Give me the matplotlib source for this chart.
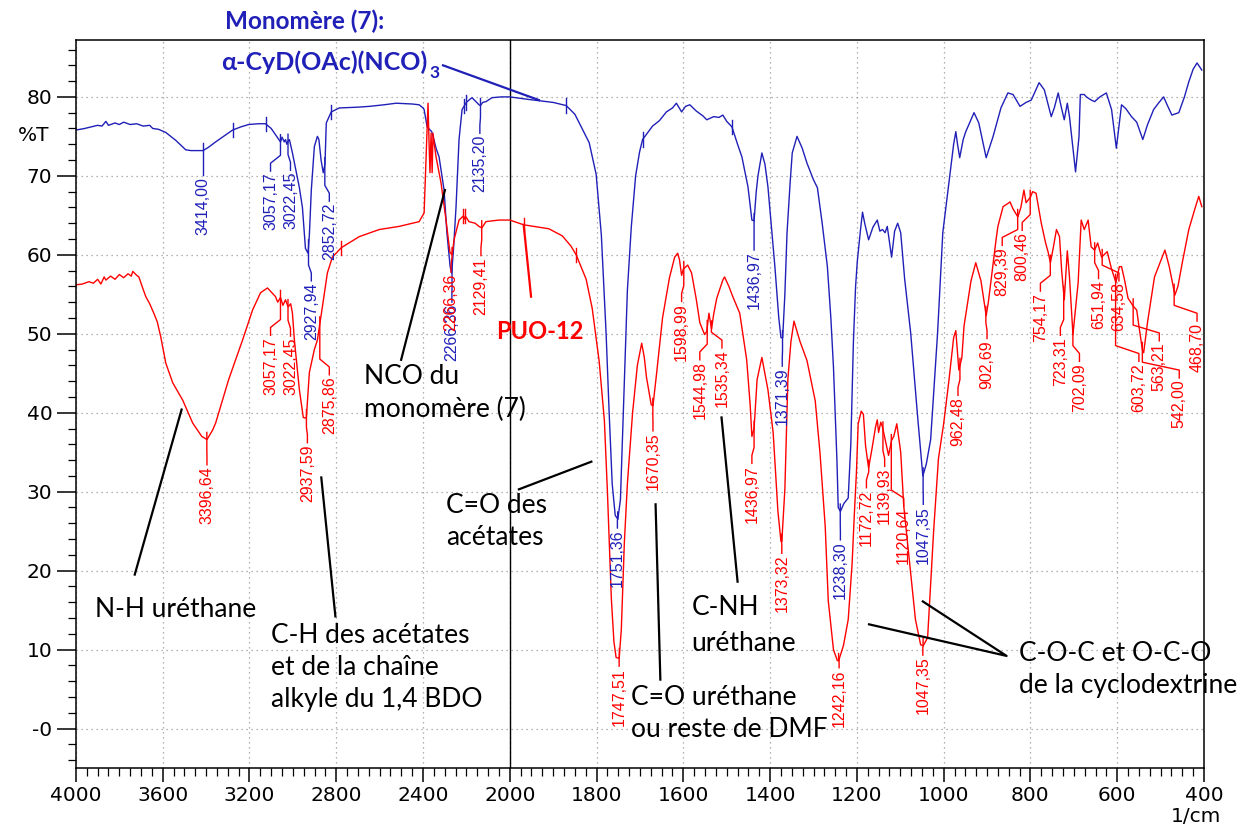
import numpy as np
import matplotlib
matplotlib.use('Agg')
import matplotlib.pyplot as plt
from matplotlib.ticker import FixedLocator

# IR spectra, wavenumber (1/cm) and transmission (%T)
blue_wn = [4000, 3960, 3930, 3900, 3880, 3862, 3850, 3820, 3800, 3780, 3750, 3720, 3690, 3660,
           3646, 3620, 3586, 3540, 3494, 3470, 3440, 3414, 3390, 3356, 3320, 3278, 3240, 3204,
           3160, 3126, 3100, 3080, 3065, 3057, 3050, 3040, 3034, 3028, 3022, 3016, 3002, 2984,
           2970, 2956, 2942, 2930, 2924, 2915, 2901, 2887, 2880, 2870, 2860, 2852, 2846, 2823,
           2786, 2700, 2648, 2580, 2524, 2450, 2418, 2400, 2395, 2381, 2360, 2350, 2340, 2326,
           2303, 2290, 2275, 2268, 2260, 2248, 2234, 2220, 2200, 2188, 2174, 2160, 2142, 2135,
           2125, 2110, 2082, 2040, 2000, 1960, 1930, 1900, 1870, 1850, 1840, 1817, 1801, 1789,
           1778, 1771, 1764, 1757, 1751, 1745, 1736, 1729, 1720, 1710, 1701, 1694, 1671, 1655,
           1639, 1625, 1616, 1604, 1595, 1585, 1570, 1555, 1546, 1530, 1518, 1509, 1500, 1488,
           1475, 1465, 1451, 1442, 1437, 1432, 1428, 1419, 1412, 1405, 1396, 1389, 1380, 1375,
           1371, 1366, 1361, 1354, 1349, 1338, 1326, 1315, 1300, 1291, 1280, 1268, 1260, 1254,
           1246, 1243, 1238, 1230, 1220, 1214, 1208, 1203, 1199, 1192, 1187, 1182, 1173, 1163,
           1153, 1147, 1141, 1135, 1130, 1120, 1113, 1106, 1099, 1090, 1076, 1060, 1048, 1040,
           1030, 1014, 1002, 988, 977, 972, 968, 963, 955, 949, 930, 919, 902, 886, 868, 852,
           840, 824, 810, 798, 780, 768, 752, 745, 736, 728, 722, 715, 710, 696, 688, 685, 676,
           671, 660, 652, 640, 625, 613, 602, 590, 580, 567, 555, 541, 530, 516, 505, 493, 485,
           474, 458, 445, 435, 425, 416, 405]
blue_t = [75.8, 76.0, 76.2, 76.4, 76.3, 76.9, 76.4, 76.7, 76.5, 76.8, 76.5, 76.6, 76.3, 76.4,
          76.0, 75.9, 75.5, 74.5, 73.3, 73.2, 73.2, 73.2, 73.6, 74.3, 75.0, 75.8, 76.2, 76.5,
          76.6, 76.6, 76.0, 75.2, 74.6, 74.3, 74.9, 74.3, 74.6, 74.0, 74.4, 74.6, 72.9, 70.4,
          68.5, 66.0, 60.8, 60.2, 62.5, 68.2, 73.7, 75.0, 74.6, 72.0, 70.4, 71.5, 76.7, 78.1,
          78.6, 78.7, 78.8, 79.0, 79.2, 79.1, 79.0, 78.6, 78.4, 76.2, 75.6, 74.6, 73.5, 72.4,
          68.2, 62.8, 58.5, 57.7, 60.5, 66.0, 74.6, 78.4, 79.3, 79.6, 79.9, 79.5, 79.0, 78.9,
          79.3, 79.4, 79.9, 80.0, 80.0, 79.7, 79.5, 79.3, 78.9, 77.8, 76.7, 74.2, 70.2, 62.5,
          50.0, 40.0, 31.0, 27.0, 26.5, 29.0, 44.0, 55.5, 63.5, 70.0, 73.0, 74.6, 76.3, 77.0,
          78.1, 78.6, 79.2, 78.1, 78.8, 79.0, 78.2, 77.6, 77.1, 77.5, 77.4, 77.7, 76.9, 76.2,
          74.0, 72.4, 68.6, 64.4, 64.3, 68.0, 70.0, 72.9, 71.5, 68.6, 63.0, 58.5, 52.0, 49.5,
          49.5, 55.0, 62.8, 69.0, 72.9, 75.0, 73.5, 71.6, 69.5, 68.5, 64.0, 58.5, 52.0, 45.8,
          34.0, 28.0, 27.5, 28.5, 29.2, 36.0, 49.0, 56.0, 59.2, 63.0, 65.4, 64.0, 61.9, 63.5,
          64.4, 63.0, 63.2, 62.8, 63.6, 59.7, 63.0, 64.0, 62.8, 57.0, 50.1, 39.5, 32.0, 33.5,
          36.6, 50.1, 62.8, 69.1, 74.0, 75.6, 74.0, 72.3, 74.6, 75.6, 78.0, 76.7, 72.3, 75.0,
          78.6, 80.5, 80.3, 78.8, 79.3, 79.6, 81.8, 80.9, 77.5, 78.6, 80.5, 78.5, 77.1, 79.2,
          77.5, 70.5, 75.0, 80.3, 80.3, 80.0, 79.6, 79.4, 80.0, 80.5, 78.4, 73.5, 79.0, 78.5,
          77.5, 76.8, 74.6, 76.5, 78.4, 79.2, 80.0, 79.0, 77.7, 78.0, 80.0, 81.9, 83.5, 84.3,
          83.4]

red_wn = [4000, 3970, 3940, 3920, 3900, 3885, 3870, 3862, 3840, 3820, 3800, 3780, 3760, 3745,
          3738, 3720, 3710, 3695, 3678, 3660, 3641, 3625, 3609, 3586, 3554, 3508, 3462, 3420,
          3396, 3370, 3356, 3296, 3232, 3186, 3149, 3117, 3100, 3080, 3070, 3057, 3046, 3034,
          3022, 3010, 3002, 2993, 2970, 2952, 2938, 2924, 2901, 2887, 2864, 2841, 2818, 2777,
          2694, 2602, 2510, 2418, 2395, 2386, 2377, 2372, 2368, 2363, 2358, 2354, 2348, 2340,
          2317, 2294, 2276, 2266, 2257, 2234, 2215, 2211, 2205, 2188, 2160, 2142, 2129, 2110,
          2050, 2000, 1968, 1910, 1879, 1859, 1847, 1824, 1810, 1794, 1782, 1775, 1766, 1760,
          1755, 1748, 1743, 1736, 1729, 1717, 1706, 1696, 1690, 1685, 1674, 1670, 1662, 1648,
          1632, 1620, 1613, 1609, 1604, 1600, 1590, 1581, 1570, 1562, 1551, 1546, 1541, 1535,
          1530, 1523, 1509, 1505, 1495, 1486, 1470, 1454, 1446, 1442, 1437, 1430, 1419, 1405,
          1393, 1382, 1375, 1373, 1366, 1359, 1352, 1345, 1331, 1315, 1296, 1285, 1273, 1266,
          1254, 1245, 1242, 1231, 1220, 1211, 1206, 1201, 1197, 1190, 1185, 1180, 1173, 1165,
          1157, 1153, 1150, 1145, 1141, 1134, 1127, 1120, 1115, 1108, 1099, 1092, 1076, 1065,
          1053, 1047, 1037, 1030, 1023, 1012, 1000, 988, 977, 972, 965, 958, 953, 937, 926, 914,
          902, 897, 879, 875, 863, 852, 847, 840, 829, 822, 815, 810, 800, 795, 787, 775, 765,
          759, 754, 747, 740, 733, 728, 722, 715, 710, 702, 690, 683, 676, 667, 660, 652, 645,
          636, 623, 613, 603, 595, 590, 583, 575, 563, 555, 550, 542, 539, 530, 514, 490, 480,
          467, 460, 450, 435, 420, 412, 405]
red_t = [56.2, 56.3, 56.6, 56.4, 56.9, 56.3, 57.2, 56.8, 57.3, 56.9, 57.5, 57.1, 57.6, 57.3,
         57.9, 57.4, 57.2, 56.0, 54.7, 53.8, 52.6, 51.5, 49.6, 46.3, 43.8, 41.6, 38.7, 37.0,
         36.6, 37.8, 38.7, 44.2, 49.2, 53.0, 55.2, 55.8, 55.3, 54.7, 54.0, 54.6, 53.6, 54.3,
         53.4, 53.8, 52.6, 49.2, 42.9, 39.4, 39.3, 45.1, 48.0, 49.2, 53.4, 57.7, 59.7, 60.9,
         62.3, 63.2, 63.6, 64.2, 65.3, 72.4, 79.2, 74.0, 70.4, 75.4, 70.4, 75.4, 74.0, 72.4,
         69.1, 64.4, 60.3, 60.0, 61.9, 64.4, 64.9, 64.5, 64.9, 64.2, 64.0, 63.6, 63.4, 64.2,
         64.4, 64.4, 63.8, 63.3, 62.4, 61.1, 60.0, 56.9, 53.2, 46.5, 39.0, 30.0, 16.5, 11.0,
         9.0, 8.9, 12.5, 23.5, 31.0, 40.0, 46.0, 48.8, 47.0, 44.5, 41.0, 40.9, 44.8, 52.0,
         57.1, 59.7, 60.2, 59.4, 57.4, 58.2, 58.7, 57.7, 54.3, 51.4, 49.9, 50.3, 52.6, 50.6,
         52.5, 54.5, 56.8, 57.2, 56.0, 54.7, 52.6, 46.7, 41.0, 37.0, 38.0, 44.2, 47.0, 42.9,
         37.5, 27.5, 23.7, 23.7, 30.3, 44.3, 49.0, 51.6, 49.0, 46.6, 41.5, 34.9, 25.6, 16.2,
         10.0, 8.6, 8.6, 10.5, 13.8, 20.9, 27.0, 32.5, 38.6, 40.2, 39.8, 35.8, 33.0, 35.5,
         38.2, 39.1, 37.5, 38.8, 38.2, 36.4, 34.6, 36.5, 37.0, 38.6, 35.0, 28.2, 19.6, 13.8,
         10.6, 10.5, 11.5, 18.4, 25.1, 34.2, 38.6, 44.0, 49.5, 50.4, 45.4, 47.0, 51.0, 56.7,
         59.0, 56.7, 52.3, 54.0, 62.0, 63.6, 66.1, 66.5, 66.7, 65.8, 64.8, 66.0, 68.2, 66.6,
         67.3, 68.0, 67.8, 64.0, 61.5, 60.3, 59.0, 61.0, 63.2, 62.3, 58.0, 54.3, 60.5, 57.2,
         49.9, 56.5, 64.4, 63.2, 64.4, 61.0, 60.6, 61.5, 59.7, 60.4, 58.2, 56.5, 58.5, 58.5,
         56.8, 54.5, 53.5, 53.0, 51.0, 48.0, 47.6, 51.5, 57.2, 60.6, 58.5, 54.9, 56.0, 59.0,
         63.2, 66.0, 67.4, 66.1]

# picked peaks
blue_peaks = [3414.00, 3057.17, 3022.45, 2927.94, 2852.72, 2266.36, 2135.20, 1751.36,
              1436.97, 1371.39, 1238.30, 1047.35]
blue_peak_text = ['3414,00', '3057,17', '3022,45', '2927,94', '2852,72', '2266,36', '2135,20',
                  '1751,36', '1436,97', '1371,39', '1238,30', '1047,35']
red_peaks = [3396.64, 3057.17, 3022.45, 2937.59, 2875.86, 2266.36, 2129.41, 1747.51, 1670.35,
             1598.99, 1544.98, 1535.34, 1436.97, 1373.32, 1242.16, 1172.72, 1139.93, 1120.64,
             1047.35, 962.48, 902.69, 829.39, 800.46, 754.17, 723.31, 702.09, 651.94, 634.58,
             603.72, 563.21, 542.00, 468.70]
red_peak_text = ['3396,64', '3057,17', '3022,45', '2937,59', '2875,86', '2266,36', '2129,41',
                 '1747,51', '1670,35', '1598,99', '1544,98', '1535,34', '1436,97', '1373,32',
                 '1242,16', '1172,72', '1139,93', '1120,64', '1047,35', '962,48', '902,69',
                 '829,39', '800,46', '754,17', '723,31', '702,09', '651,94', '634,58', '603,72',
                 '563,21', '542,00', '468,70']

# where the peak labels sit (x in 1/cm, top of label in %T)
blue_lab_x = [3414, 3103, 3011, 2915, 2832, 2267, 2138, 1752, 1437, 1372, 1238, 1047]
blue_lab_top = [69.9, 70.4, 70.5, 56.5, 66.6, 53.8, 75.2, 25.2, 60.4, 45.7, 23.7, 28.2]
red_lab_x = [3396, 3103, 3011, 2933, 2832, 2271, 2133, 1748, 1670, 1604, 1562, 1511, 1442,
             1373, 1241, 1178, 1136, 1092, 1048, 967, 900, 865, 819, 777, 731, 687, 643, 596,
             550, 503, 457, 416]
red_lab_top = [33.2, 49.6, 49.5, 36.0, 44.6, 57.6, 59.7, 7.7, 37.5, 53.9, 46.5, 48.0, 33.4,
               22.0, 7.5, 30.3, 33.0, 28.0, 9.1, 42.0, 49.2, 61.0, 62.9, 55.2, 49.6, 46.3,
               56.8, 56.5, 46.3, 48.9, 44.2, 51.4]

# extra picked points without visible numbers
blue_marks = [3278, 3126, 2823, 2211, 2200, 1870, 1694, 1488]
red_marks = [2777, 2215, 2205, 1968, 1847]

BLUE = '#2020b8'
RED = '#ff0000'


def fwd(x):
    x = np.asarray(x, dtype=float)
    return np.where(x > 2000, 2000 + (x - 2000) / 2.0, x)


def inv(u):
    u = np.asarray(u, dtype=float)
    return np.where(u > 2000, 2000 + (u - 2000) * 2.0, u)


def curve_at(wn, xs, ys):
    return float(np.interp(wn, xs[::-1], ys[::-1]))


fig = plt.figure(figsize=(12.43, 8.36), dpi=100)
ax = fig.add_axes([0.0611, 0.0813, 0.9075, 0.8708])
ax.set_xscale('function', functions=(fwd, inv))
ax.set_xlim(4000, 400)
ax.set_ylim(-5, 87.2)

major_x = [4000, 3600, 3200, 2800, 2400, 2000, 1800, 1600, 1400, 1200, 1000, 800, 600, 400]
minor_x = [w for w in list(range(2050, 4000, 50)) + list(range(425, 2000, 25)) if w not in major_x]
ax.xaxis.set_major_locator(FixedLocator(major_x))
ax.xaxis.set_minor_locator(FixedLocator(minor_x))
ax.set_xticklabels([str(w) for w in major_x])
ax.yaxis.set_major_locator(FixedLocator(range(0, 81, 10)))
ax.yaxis.set_minor_locator(FixedLocator(range(-4, 87, 2)))
ax.set_yticklabels(['-0' if v == 0 else str(v) for v in range(0, 81, 10)])
ax.tick_params(which='major', direction='out', length=10, width=1.1, labelsize=14.5, pad=3)
ax.tick_params(axis='y', which='major', length=14)
ax.tick_params(which='minor', direction='out', length=5.5, width=0.9)
for s in ax.spines.values():
    s.set_linewidth(1.1)

ax.grid(which='major', color='#9a9a9a', linestyle=(0, (1, 3)), linewidth=0.9)
ax.axvline(2000, color='black', linewidth=1.0)

ax.plot(blue_wn, blue_t, color=BLUE, linewidth=1.0)
ax.plot(red_wn, red_t, color=RED, linewidth=1.0)

lab_font = dict(family='Liberation Sans', fontsize=11.5)


def peak_labels(peaks, texts, lab_x, lab_top, xs, ys, color):
    for p, txt, lx, lt in zip(peaks, texts, lab_x, lab_top):
        tp = curve_at(p, xs, ys)
        mid = min(tp - 0.3, lt + 2.2)
        if mid < lt + 1.3:
            mid = lt + 1.3
        ax.plot([p, p, lx, lx], [tp + 0.9, mid, lt + 1.2, lt + 0.2], color=color, linewidth=1.0)
        ax.text(lx, lt, txt, rotation=90, ha='center', va='top', color=color, **lab_font)


peak_labels(blue_peaks, blue_peak_text, blue_lab_x, blue_lab_top, blue_wn, blue_t, BLUE)
peak_labels(red_peaks, red_peak_text, red_lab_x, red_lab_top, red_wn, red_t, RED)

for m in blue_marks:
    tm = curve_at(m, blue_wn, blue_t)
    ax.plot([m, m], [tm - 0.9, tm + 0.9], color=BLUE, linewidth=1.0)
for m in red_marks:
    tm = curve_at(m, red_wn, red_t)
    ax.plot([m, m], [tm - 0.9, tm + 0.9], color=RED, linewidth=1.0)

# band assignments
note = dict(family='Lato', fontsize=19, color='black', linespacing=1.36)
ax.text(3913, 15.1, 'N-H uréthane', va='center', **note)
ax.plot([3729, 3513], [19.5, 40.4], color='black', linewidth=1.6)
ax.text(3099, 7.7, 'C-H des acétates\net de la chaîne\nalkyle du 1,4 BDO', va='center', **note)
ax.plot([2804, 2869], [14.2, 31.8], color='black', linewidth=1.6)
ax.text(2671, 42.5, 'NCO du\nmonomère (7)', va='center', **note)
ax.plot([2501, 2299], [46.7, 68.2], color='black', linewidth=1.6)
ax.text(2294, 26.2, 'C=O des\nacétates', va='center', **note)
ax.plot([1979, 1812], [30.3, 33.8], color='black', linewidth=1.6)
ax.text(1720, 1.9, 'C=O uréthane\nou reste de DMF', va='center', **note)
ax.plot([1653, 1664], [6.2, 28.4], color='black', linewidth=1.6)
ax.text(1581, 15.3, 'C-NH', va='center', **note)
ax.text(1581, 10.8, 'uréthane', va='center', **note)
ax.plot([1475, 1512], [18.6, 39.4], color='black', linewidth=1.6)
ax.text(826, 7.5, 'C-O-C et O-C-O\nde la cyclodextrine', va='center', **note)
ax.plot([1172, 855, 1048], [13.2, 9.2, 16.1], color='black', linewidth=1.6)

ax.text(2064, 50.3, 'PUO-12', va='center', family='Lato', fontsize=17, fontweight='bold', color=RED)
ax.plot([1968, 1951], [63.8, 54.7], color=RED, linewidth=1.6)

ax.text(3315, 89.6, 'Monomère (7):', va='center', family='Lato', fontsize=17.5,
        fontweight='bold', color=BLUE, clip_on=False)
ax.text(3329, 84.4, 'α-CyD(OAc)(NCO)', va='center', family='Lato', fontsize=18,
        fontweight='bold', color=BLUE)
ax.text(2372, 83.0, '3', va='center', family='Lato', fontsize=12.5, fontweight='bold', color=BLUE)
ax.plot([2308, 1933], [84.0, 79.6], color=BLUE, linewidth=1.6)

fig.text(0.014, 0.838, '%T', fontsize=14.5, family='DejaVu Sans', va='center')
fig.text(0.942, 0.012, '1/cm', fontsize=14.5, family='DejaVu Sans', va='bottom')

fig.savefig('out.png', dpi=100)
